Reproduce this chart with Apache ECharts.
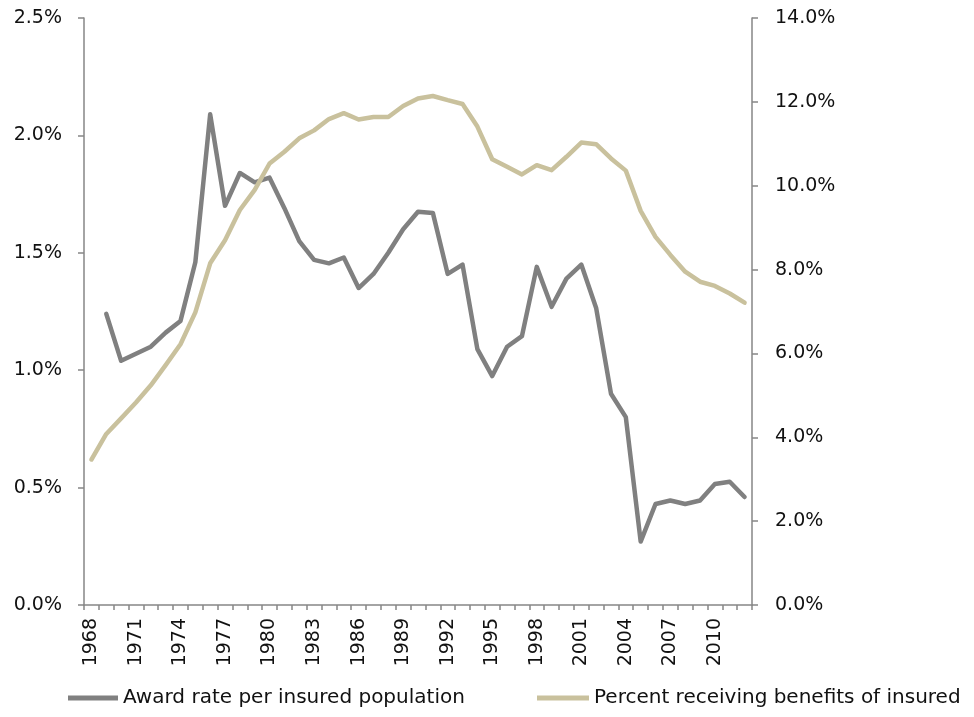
<!DOCTYPE html>
<html>
<head>
<meta charset="utf-8">
<script src="https://cdn.jsdelivr.net/npm/echarts@6/dist/echarts.min.js"></script>
<style>html,body{margin:0;padding:0;background:#fff}#c{width:974px;height:717px}</style>
</head>
<body>
<div id="c"></div>
<script>
var years = [];
for (var y = 1968; y <= 2012; y++) years.push(String(y));

var seriesNames = ['Award rate per insured population', 'Percent receiving benefits of insured'];

var awardRate = [null,
  1.24, 1.04, 1.07, 1.10, 1.16, 1.21, 1.46, 2.09, 1.70, 1.84,
  1.80, 1.82, 1.69, 1.55, 1.47, 1.455, 1.48, 1.35, 1.41, 1.50,
  1.60, 1.675, 1.67, 1.41, 1.45, 1.09, 0.975, 1.10, 1.145, 1.44,
  1.27, 1.39, 1.45, 1.265, 0.90, 0.80, 0.27, 0.43, 0.445, 0.43,
  0.445, 0.515, 0.525, 0.46];

var percentReceiving = [3.47,
  4.08, 4.45, 4.83, 5.24, 5.72, 6.22, 6.98, 8.15, 8.70, 9.42,
  9.90, 10.53, 10.81, 11.13, 11.32, 11.59, 11.73, 11.58, 11.64, 11.64,
  11.90, 12.08, 12.14, 12.04, 11.95, 11.41, 10.63, 10.45, 10.27, 10.49,
  10.37, 10.69, 11.03, 10.99, 10.65, 10.36, 9.40, 8.78, 8.35, 7.95,
  7.71, 7.61, 7.43, 7.21];

var leftTicks = {min: 0, max: 2.5, interval: 0.5};
var rightTicks = {min: 0, max: 14, interval: 2};

var axisColor = '#868686';
var font = 'DejaVu Sans';
var chart = echarts.init(document.getElementById('c'));
chart.setOption({
  animation: false,
  backgroundColor: '#fff',
  grid: {left: 84, right: 222, top: 18, bottom: 112, containLabel: false},
  legend: [
    {data: [seriesNames[0]], left: 68, top: 688, padding: 0, icon: 'rect', itemWidth: 50, itemHeight: 5, itemGap: 5,
     textStyle: {fontFamily: font, fontSize: 20, color: '#111'}},
    {data: [seriesNames[1]], left: 537, top: 688, padding: 0, icon: 'rect', itemWidth: 52, itemHeight: 5, itemGap: 5,
     textStyle: {fontFamily: font, fontSize: 20, color: '#111'}}
  ],
  xAxis: {
    type: 'category', data: years, boundaryGap: true,
    axisLine: {lineStyle: {color: axisColor, width: 1.5}},
    axisTick: {show: true, interval: 0, length: 5, lineStyle: {color: axisColor, width: 1.5}},
    axisLabel: {interval: 2, rotate: 90, margin: 13, fontFamily: font, fontSize: 19, color: '#111'},
    splitLine: {show: false}
  },
  yAxis: [
    {type: 'value', position: 'left', min: leftTicks.min, max: leftTicks.max, interval: leftTicks.interval,
     axisLine: {show: true, lineStyle: {color: axisColor, width: 1.5}},
     axisTick: {show: true, length: 6, lineStyle: {color: axisColor, width: 1.5}},
     axisLabel: {margin: 22, fontFamily: font, fontSize: 19, color: '#111',
       formatter: function (v) { return v.toFixed(1) + '%'; }},
     splitLine: {show: false}},
    {type: 'value', position: 'right', min: rightTicks.min, max: rightTicks.max, interval: rightTicks.interval,
     axisLine: {show: true, lineStyle: {color: axisColor, width: 1.5}},
     axisTick: {show: true, length: 6, lineStyle: {color: axisColor, width: 1.5}},
     axisLabel: {margin: 23, fontFamily: font, fontSize: 19, color: '#111',
       formatter: function (v) { return v.toFixed(1) + '%'; }},
     splitLine: {show: false}}
  ],
  series: [
    {name: seriesNames[0], type: 'line', yAxisIndex: 0, data: awardRate, showSymbol: false, symbol: 'none',
     color: '#808080', lineStyle: {color: '#808080', width: 4.5, cap: 'round', join: 'round'}},
    {name: seriesNames[1], type: 'line', yAxisIndex: 1, data: percentReceiving, showSymbol: false, symbol: 'none',
     color: '#C9C19D', lineStyle: {color: '#C9C19D', width: 4.5, cap: 'round', join: 'round'}}
  ]
});
</script>
</body>
</html>
